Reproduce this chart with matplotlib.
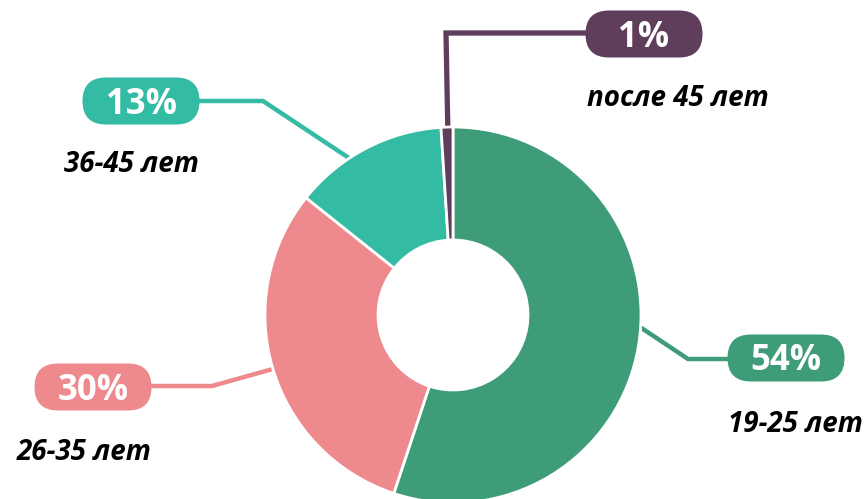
import matplotlib.pyplot as plt
from matplotlib.patches import FancyBboxPatch

# data
age_groups = ['19-25 лет', '26-35 лет', '36-45 лет', 'после 45 лет']
shares = [54, 30, 13, 1]
pct_labels = ['54%', '30%', '13%', '1%']
colors = ['#3F9C78', '#EE8A8D', '#33BBA3', '#5F3E5C']

plt.rcParams['font.family'] = ['Open Sans', 'DejaVu Sans']

fig = plt.figure(figsize=(8.68, 4.99), dpi=100)
ax = fig.add_axes([0, 0, 1, 1])

# donut
ax.pie(shares, colors=colors, startangle=90, counterclock=False,
       center=(453, 184), radius=188, frame=True,
       wedgeprops=dict(width=113, edgecolor='white', linewidth=2, zorder=3))
ax.set_xlim(0, 868)
ax.set_ylim(0, 499)
ax.set_aspect('equal')
ax.axis('off')

# leader lines: (xs, ys) in figure pixels, y upward
leaders = [
    ([634, 688, 730], [176, 140, 140]),
    ([280, 212, 150], [132, 113, 113]),
    ([358, 263, 198], [335, 398, 398]),
    ([448, 446, 590], [360, 466, 466]),
]
# badges: centre x, centre y
badges = [(786, 141), (93, 112), (141, 398), (644, 465)]
# category label: x, baseline y, alignment
texts = [(728, 67, 'left'), (152, 39, 'right'), (199, 327, 'right'), (587, 393, 'left')]

bw, bh = 117, 47
for i in range(len(shares)):
    xs, ys = leaders[i]
    ax.plot(xs, ys, color=colors[i], lw=3.2 if i < 3 else 3.8,
            solid_joinstyle='miter', zorder=2)
    cx, cy = badges[i]
    ax.add_patch(FancyBboxPatch((cx - bw / 2, cy - bh / 2), bw, bh,
                                boxstyle=f'round,pad=0,rounding_size={bh / 2}',
                                fc=colors[i], ec='none', zorder=4))
    ax.text(cx, cy - 12.5, pct_labels[i], color='white', fontsize=25,
            fontweight='bold', ha='center', va='baseline', zorder=5)
    tx, ty, al = texts[i]
    ax.text(tx, ty, age_groups[i], color='black', fontsize=20,
            fontweight='bold', fontstyle='italic', ha=al, va='baseline', zorder=5)

fig.savefig('out.png', dpi=100)
